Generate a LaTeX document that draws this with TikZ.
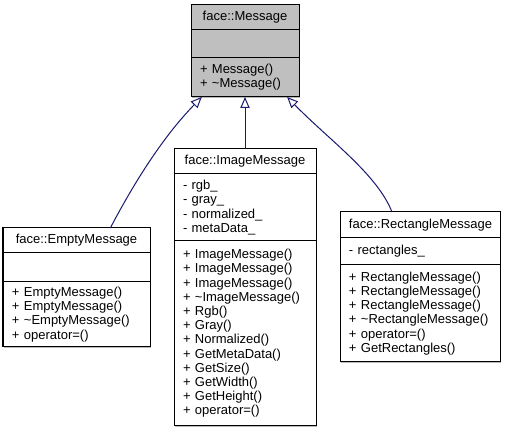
\documentclass[tikz,border=0pt]{standalone}
\usepackage{fontspec}
\setmainfont{Liberation Sans}
\usetikzlibrary{positioning,calc,arrows.meta,shadows}
\definecolor{edgeblue}{RGB}{25,25,112}
\definecolor{basegray}{RGB}{191,191,191}
\tikzset{
	part/.style={draw, line width=0.75pt, fill=white, outer sep=0pt, inner xsep=6.75pt, inner ysep=0pt, align=left,
		font=\fontsize{9.75pt}{10.65pt}\selectfont,
		drop shadow={shadow xshift=0.75pt, shadow yshift=-0.75pt, fill=gray!55, opacity=1}}, % every compartment of a class box
	clsname/.style={part, align=center, minimum height=18.75pt},
	inherit/.style={draw=edgeblue, line width=0.75pt, -{Triangle[length=8.25pt,width=7pt,fill=white]}}
}

\begin{document}
\begin{tikzpicture}[x=0.75pt,y=-0.75pt,node distance=0pt]
	\useasboundingbox (0,0) rectangle (512,435);
	% base class
	\node[clsname, fill=basegray, text width=67.5pt, anchor=north west] (msg-name) at (191,5) {face::Message};
	\node[part, fill=basegray, text width=67.5pt, minimum height=21pt, below=of msg-name] (msg-attr) {};
	\node[part, fill=basegray, text width=67.5pt, minimum height=29.25pt, below=of msg-attr] (msg-ops) {+ Message()\\+ \textasciitilde Message()};
	% derived classes
	\node[clsname, text width=96.75pt, anchor=north west] (empty-name) at (3,228) {face::EmptyMessage};
	\node[part, text width=96.75pt, minimum height=21.75pt, below=of empty-name] (empty-attr) {};
	\node[part, text width=96.75pt, minimum height=48.75pt, below=of empty-attr] (empty-ops) {+ EmptyMessage()\\+ EmptyMessage()\\+ \textasciitilde EmptyMessage()\\+ operator=()};
	\node[clsname, text width=93pt, anchor=north west] (img-name) at (174,149) {face::ImageMessage};
	\node[part, text width=93pt, minimum height=50.25pt, below=of img-name] (img-attr) {- rgb\_\\- gray\_\\- normalized\_\\- metaData\_};
	\node[part, text width=93pt, minimum height=138.75pt, below=of img-attr] (img-ops) {+ ImageMessage()\\+ ImageMessage()\\+ ImageMessage()\\+ \textasciitilde ImageMessage()\\+ Rgb()\\+ Gray()\\+ Normalized()\\+ GetMetaData()\\+ GetSize()\\+ GetWidth()\\+ GetHeight()\\+ operator=()};
	\node[clsname, text width=106.5pt, minimum height=19.5pt, anchor=north west] (rect-name) at (340,212) {face::RectangleMessage};
	\node[part, text width=106.5pt, minimum height=20.25pt, below=of rect-name] (rect-attr) {- rectangles\_};
	\node[part, text width=106.5pt, minimum height=72.75pt, below=of rect-attr] (rect-ops) {+ RectangleMessage()\\+ RectangleMessage()\\+ RectangleMessage()\\+ \textasciitilde RectangleMessage()\\+ operator=()\\+ GetRectangles()};
	% generalisation edges
	\draw[inherit] ($(empty-name.north west)!0.73!(empty-name.north east)$) .. controls +(20,-38) and +(-42,43) .. ($(msg-ops.south west)!0.1!(msg-ops.south east)$);
	\draw[inherit] (img-name) -- (msg-ops);
	\draw[inherit] ($(rect-name.north west)!0.325!(rect-name.north east)$) .. controls +(-15,-38) and +(42,43) .. ($(msg-ops.south west)!0.89!(msg-ops.south east)$);
\end{tikzpicture}
\end{document}
